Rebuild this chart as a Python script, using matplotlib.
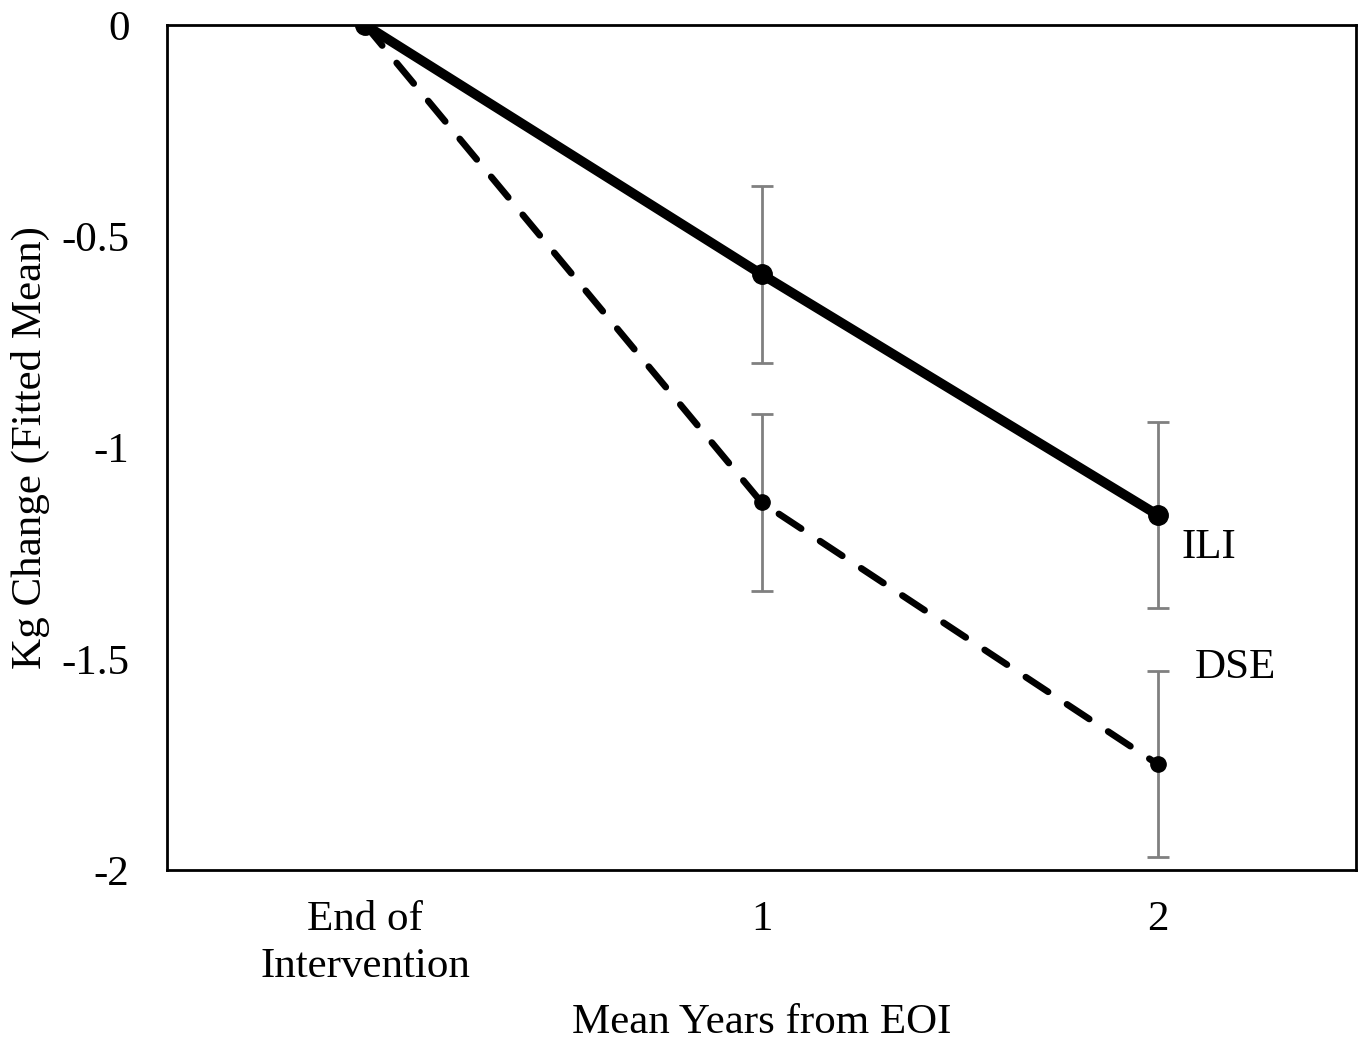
import matplotlib
import matplotlib.pyplot as plt
import numpy as np

font = {'size': 31, 'family': ['Liberation Serif', 'DejaVu Serif']}
matplotlib.rc('font', **font)

## Categories and fitted means
categories = ['End of\nIntervention', '1', '2']
ili_mean = [0, -0.59, -1.16]
ili_low = [0, -0.80, -1.38]
ili_high = [0, -0.38, -0.94]
dse_mean = [0, -1.13, -1.75]
dse_low = [0, -1.34, -1.97]
dse_high = [0, -0.92, -1.53]
yticks = [0, -0.5, -1, -1.5, -2]
ytick_labels = ['0', '-0.5', '-1', '-1.5', '-2']

x = np.arange(len(categories))

fig = plt.figure(figsize=(13.63, 10.42), dpi=100)
ax = fig.add_axes([0.1225, 0.165, 0.8725, 0.811])

# error bars (skip the first point, it has none)
for mean, lo, hi in [(ili_mean, ili_low, ili_high), (dse_mean, dse_low, dse_high)]:
	m = np.array(mean[1:])
	err = np.array([m - np.array(lo[1:]), np.array(hi[1:]) - m])
	ax.errorbar(x[1:], m, yerr=err, fmt='none', ecolor='#808080',
		elinewidth=2, capsize=8, capthick=2, zorder=1)

ax.plot(x, dse_mean, color='black', lw=4.8, ls=(0, (4, 3.4)),
	dash_capstyle='round', marker='o', ms=11, zorder=2)
ax.plot(x, ili_mean, color='black', lw=7, marker='o', ms=14,
	solid_capstyle='round', zorder=3)

ax.text(2.129, -1.238, 'ILI', ha='center', va='center')
ax.text(2.194, -1.522, 'DSE', ha='center', va='center')

ax.set_xlim(-0.5, 2.5)
ax.set_ylim(-2, 0)
ax.set_xticks(x)
ax.set_xticklabels(categories, linespacing=1.3)
ax.set_yticks(yticks)
ax.set_yticklabels(ytick_labels)
ax.tick_params(length=0)
ax.tick_params(axis='x', pad=22)
ax.tick_params(axis='y', pad=27)
for s in ax.spines.values():
	s.set_linewidth(2)

ax.set_xlabel('Mean Years from EOI', labelpad=12)
ax.set_ylabel('Kg Change (Fitted Mean)', labelpad=8)

fig.savefig('out.png')
